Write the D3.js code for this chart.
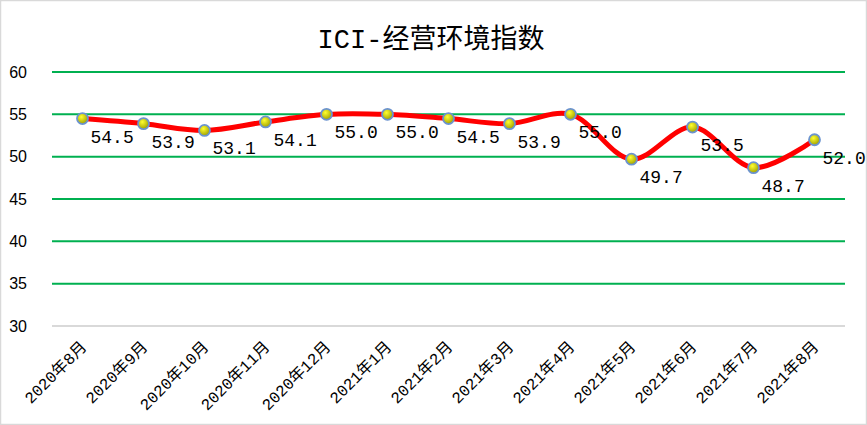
<!DOCTYPE html>
<html><head><meta charset="utf-8">
<script src="https://cdn.jsdelivr.net/npm/d3@7"></script>
<style>body{margin:0;background:#fff}svg{display:block}</style>
</head><body>
<svg id="c" width="867" height="425"></svg>
<script>
const categories = ["2020年8月","2020年9月","2020年10月","2020年11月","2020年12月","2021年1月","2021年2月","2021年3月","2021年4月","2021年5月","2021年6月","2021年7月","2021年8月"];
const values = [54.5,53.9,53.1,54.1,55.0,55.0,54.5,53.9,55.0,49.7,53.5,48.7,52.0];
const yTicks = [30,35,40,45,50,55,60];
const title = "ICI-经营环境指数";

const svg = d3.select("#c");
const W = 867, H = 425;
const m = {left:52, right:22, top:72, bottom:99};

svg.append("rect").attr("x",0.5).attr("y",0.5).attr("width",W-1).attr("height",H-1)
  .attr("fill","#fff").attr("stroke","#d9d9d9").attr("stroke-width",1.5);

const x = d3.scaleBand().domain(categories).range([m.left, W-m.right]);
const y = d3.scaleLinear().domain([30,60]).range([H-m.bottom, m.top]);

const defs = svg.append("defs");
const g = defs.append("radialGradient").attr("id","mk").attr("cx","40%").attr("cy","35%").attr("r","65%");
g.append("stop").attr("offset","0%").attr("stop-color","#ffff30");
g.append("stop").attr("offset","100%").attr("stop-color","#a0a000");

svg.append("text").attr("x",431).attr("y",48).attr("text-anchor","middle")
  .attr("font-family","'Liberation Mono','Noto Sans CJK SC'").attr("font-size",27)
  .attr("fill","#000").text(title);

// gridlines
svg.append("g").selectAll("line").data(yTicks).join("line")
  .attr("x1",m.left).attr("x2",W-m.right)
  .attr("y1",d=>y(d)).attr("y2",d=>y(d))
  .attr("stroke",d=>d===30?"#d9d9d9":"#00b050").attr("stroke-width",2);

// y axis labels
const yAxis = d3.axisLeft(y).tickValues(yTicks).tickSize(0).tickPadding(0);
const ya = svg.append("g").attr("transform","translate(27,0)").call(yAxis);
ya.select(".domain").remove();
ya.selectAll("text").attr("font-family","'Liberation Sans',sans-serif").attr("font-size",16).attr("fill","#000");

// x axis labels
const xAxis = d3.axisBottom(x).tickSize(0).tickPadding(0);
const xa = svg.append("g").attr("transform",`translate(0,${H-m.bottom})`).call(xAxis);
xa.select(".domain").remove();
xa.selectAll("text").attr("font-family","'Liberation Mono','Noto Sans CJK SC'").attr("font-size",16).attr("fill","#000")
  .attr("text-anchor","end").attr("dy",0).attr("y",0)
  .attr("transform","translate(5,22) rotate(-45)");

const cx = d => x(d) + x.bandwidth()/2;
const pts = categories.map((c,i)=>[cx(c), y(values[i])]);

svg.append("path").datum(pts)
  .attr("d", d3.line().curve(d3.curveCatmullRom.alpha(0.5)))
  .attr("fill","none").attr("stroke","#ff0000").attr("stroke-width",5).attr("stroke-linejoin","round");

svg.append("g").selectAll("circle").data(pts).join("circle")
  .attr("cx",d=>d[0]).attr("cy",d=>d[1]).attr("r",5.5)
  .attr("fill","url(#mk)").attr("stroke","#6b93cf").attr("stroke-width",1.8);

svg.append("g").selectAll("text").data(values).join("text")
  .attr("x",(d,i)=>pts[i][0]+8).attr("y",(d,i)=>pts[i][1]+24)
  .attr("font-family","'Liberation Mono',monospace").attr("font-size",18).attr("fill","#000")
  .text(d=>d.toFixed(1));
</script>
</body></html>
